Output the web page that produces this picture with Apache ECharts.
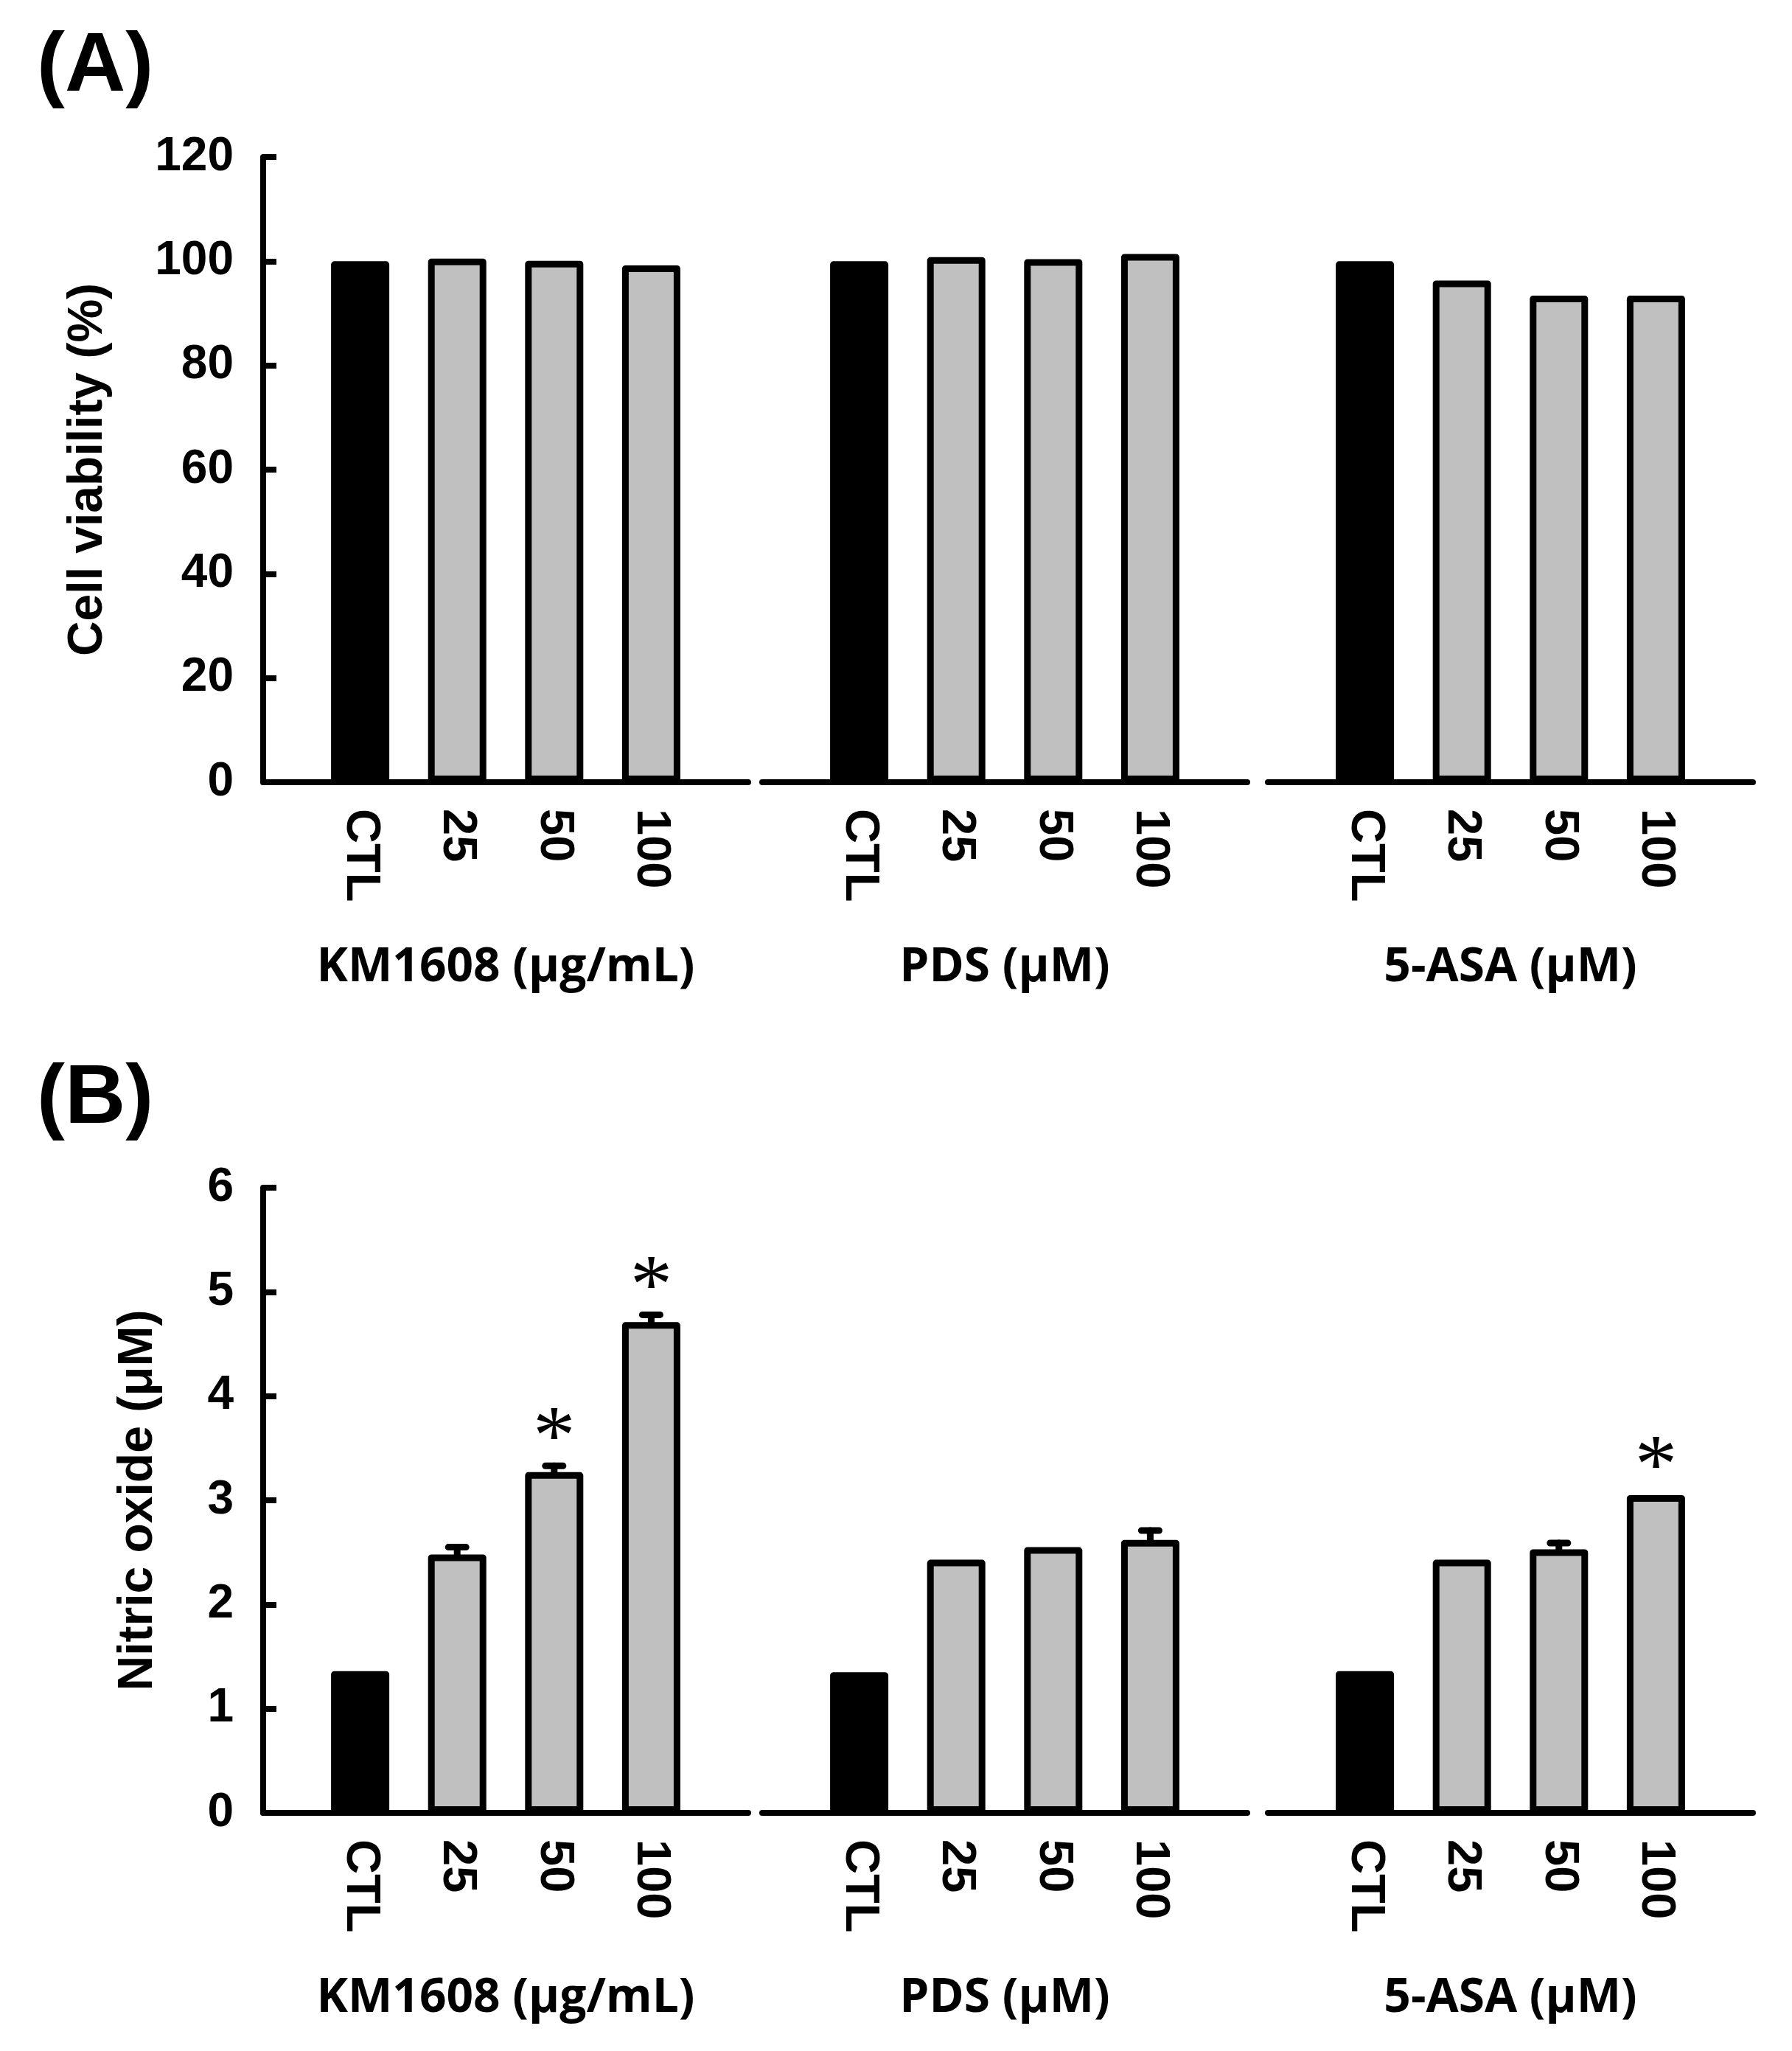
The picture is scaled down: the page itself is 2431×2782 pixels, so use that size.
<!DOCTYPE html>
<html>
<head>
<meta charset="utf-8">
<script src="https://cdn.jsdelivr.net/npm/echarts@6/dist/echarts.min.js"></script>
<style>
html, body { margin: 0; padding: 0; background: #fff; }
#chart { width: 2431px; height: 2782px; }
</style>
</head>
<body>
<div id="chart"></div>
<script>
/* categories */
var doses = ['CTL', '25', '50', '100'];
var groupNames = ['KM1608 (μg/mL)', 'PDS (μM)', '5-ASA (μM)'];

/* (A) cell viability, % */
var viabilityKM = [100, 100.5, 100.1, 99.2];
var viabilityPDS = [100, 100.8, 100.4, 101.4];
var viabilityASA = [100, 96.3, 93.4, 93.4];

/* (B) nitric oxide, uM, with error and significance marks */
var nitricKM = [1.36, 2.48, 3.27, 4.71];
var nitricKMErr = [0, 0.07, 0.06, 0.07];
var nitricKMSig = ['', '', '*', '*'];
var nitricPDS = [1.35, 2.43, 2.55, 2.62];
var nitricPDSErr = [0, 0, 0, 0.09];
var nitricPDSSig = ['', '', '', ''];
var nitricASA = [1.36, 2.43, 2.53, 3.05];
var nitricASAErr = [0, 0, 0.06, 0];
var nitricASASig = ['', '', '', '*'];

var FONT = 'Liberation Sans, Arial, sans-serif';
var GROUP_FONT = 'Open Sans, Noto Sans, sans-serif';
var LINE_W = 8;

var gridLefts = [357, 1034, 1720];
var gridWidth = 658;

var grids = [], xAxes = [], yAxes = [], series = [];

/* one panel = three small grids sharing a y scale */
function addPanel(top, yMax, yInterval, yName, yNameGap, values, errs, sigs) {
	for (var g = 0; g < 3; g++) {
		var idx = grids.length;
		grids.push({ left: gridLefts[g], top: top, width: gridWidth, height: 848 });
		xAxes.push({
			type: 'category',
			gridIndex: idx,
			data: [''].concat(doses, ['']),
			boundaryGap: false,
			axisLine: { show: true, lineStyle: { color: '#000', width: LINE_W, cap: 'round' } },
			axisTick: { show: false },
			axisLabel: {
				rotate: -90, margin: 36, interval: 0,
				fontFamily: FONT, fontWeight: 'bold', fontSize: 65, color: '#000'
			},
			name: groupNames[g],
			nameLocation: 'middle',
			nameGap: 252,
			nameTextStyle: {
				fontFamily: GROUP_FONT, fontWeight: 'bold', fontSize: 64, color: '#000',
				verticalAlign: 'middle'
			}
		});
		yAxes.push({
			type: 'value',
			gridIndex: idx,
			min: 0, max: yMax, interval: yInterval,
			show: g === 0,
			splitLine: { show: false },
			axisLine: { show: true, lineStyle: { color: '#000', width: LINE_W, cap: 'round' } },
			axisTick: { show: true, inside: true, length: 18, lineStyle: { width: LINE_W, color: '#000' } },
			axisLabel: { margin: 40, fontFamily: FONT, fontWeight: 'bold', fontSize: 64, color: '#000' },
			name: g === 0 ? yName : '',
			nameLocation: 'middle',
			nameGap: yNameGap,
			nameTextStyle: { fontFamily: FONT, fontWeight: 'bold', fontSize: 66, color: '#000' }
		});

		var barData = [null];
		for (var i = 0; i < values[g].length; i++) {
			barData.push({
				value: values[g][i],
				itemStyle: { color: i === 0 ? '#000' : '#c0c0c0' }
			});
		}
		barData.push(null);
		series.push({
			type: 'bar',
			xAxisIndex: idx,
			yAxisIndex: idx,
			data: barData,
			barWidth: 79,
			itemStyle: { borderColor: '#000', borderWidth: 9, borderJoin: 'round' }
		});

		if (errs) {
			var eData = [];
			for (var k = 0; k < values[g].length; k++) {
				eData.push([k + 1, values[g][k], errs[g][k]]);
			}
			series.push({
				type: 'custom',
				xAxisIndex: idx,
				yAxisIndex: idx,
				data: eData,
				z: 5,
				renderItem: (function (sig) {
					return function (params, api) {
						var x = api.value(0), v = api.value(1), e = api.value(2);
						var base = api.coord([x, v]);
						var tip = api.coord([x, v + e]);
						var children = [];
						if (e > 0) {
							children.push({
								type: 'line',
								shape: { x1: base[0], y1: base[1], x2: tip[0], y2: tip[1] },
								style: { stroke: '#000', lineWidth: 9, lineCap: 'round' }
							});
							children.push({
								type: 'line',
								shape: { x1: tip[0] - 12, y1: tip[1], x2: tip[0] + 12, y2: tip[1] },
								style: { stroke: '#000', lineWidth: 9, lineCap: 'round' }
							});
						}
						if (sig[params.dataIndex]) {
							children.push({
								type: 'text',
								style: {
									text: sig[params.dataIndex],
									x: tip[0], y: tip[1] - 34,
									align: 'center', verticalAlign: 'middle',
									font: '115px "Liberation Serif", "Times New Roman", serif',
									fill: '#000'
								}
							});
						}
						return { type: 'group', children: children };
					};
				})(sigs[g])
			});
		}
	}
}

addPanel(213, 120, 20, 'Cell viability (%)', 204,
	[viabilityKM, viabilityPDS, viabilityASA], null, null);
addPanel(1611, 6, 1, 'Nitric oxide (μM)', 136,
	[nitricKM, nitricPDS, nitricASA],
	[nitricKMErr, nitricPDSErr, nitricASAErr],
	[nitricKMSig, nitricPDSSig, nitricASASig]);

var chart = echarts.init(document.getElementById('chart'), null, { renderer: 'canvas' });
chart.setOption({
	animation: false,
	backgroundColor: '#fff',
	grid: grids,
	xAxis: xAxes,
	yAxis: yAxes,
	series: series,
	graphic: [
		{ type: 'text', x: 50, y: 92, style: { text: '(A)', font: 'bold 114px ' + FONT, textAlign: 'left', textVerticalAlign: 'middle', fill: '#000' } },
		{ type: 'text', x: 50, y: 1492, style: { text: '(B)', font: 'bold 114px ' + FONT, textAlign: 'left', textVerticalAlign: 'middle', fill: '#000' } }
	]
});
</script>
</body>
</html>
